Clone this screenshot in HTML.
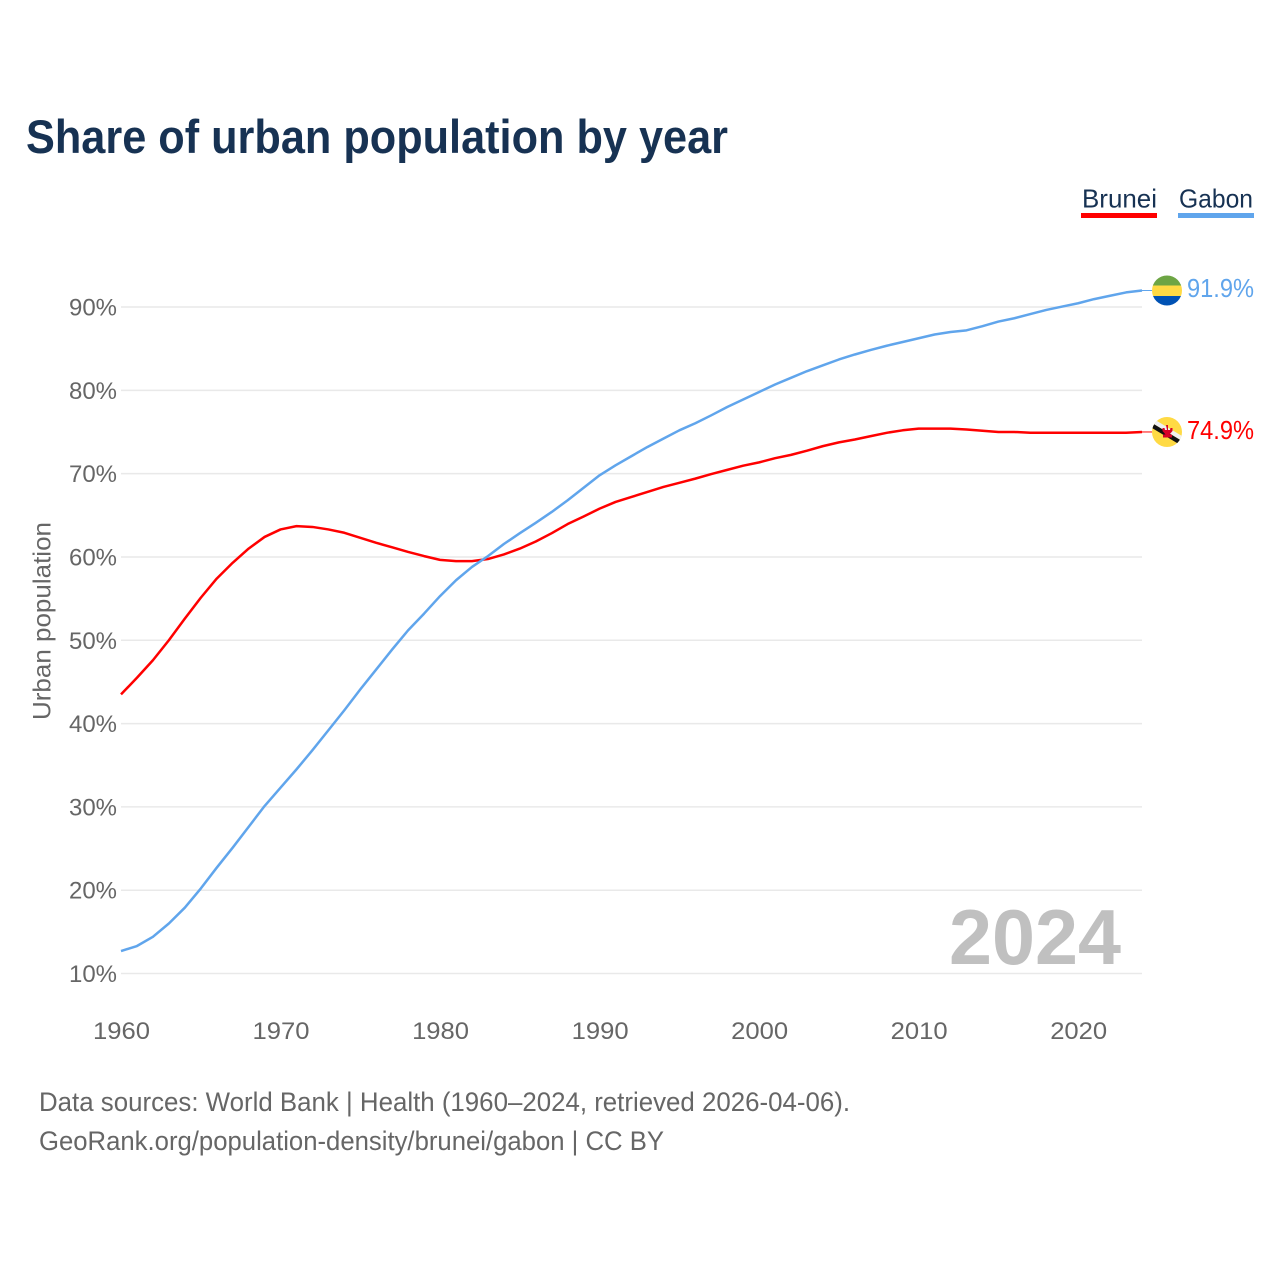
<!DOCTYPE html>
<html lang="en">
<head>
<meta charset="utf-8">
<title>Share of urban population by year</title>
<style>
html,body{margin:0;padding:0;background:#fff;}
svg{display:block;font-family:"Liberation Sans",sans-serif;}
</style>
</head>
<body>
<svg id="chart" xmlns="http://www.w3.org/2000/svg" width="1280" height="1280" viewBox="0 0 1280 1280">
  <defs>
    <clipPath id="flag-clip-gabon"><circle cx="0" cy="0" r="15"/></clipPath>
    <clipPath id="flag-clip-brunei"><circle cx="0" cy="0" r="15"/></clipPath>
  </defs>
  <rect x="0" y="0" width="1280" height="1280" fill="#ffffff"/>
  <text x="26" y="153" font-size="47" font-weight="700" fill="#173253" textLength="702" lengthAdjust="spacingAndGlyphs">Share of urban population by year</text>

  <text x="1082" y="207.5" font-size="26" fill="#173253" textLength="75" lengthAdjust="spacingAndGlyphs">Brunei</text>
  <rect x="1081" y="213" width="76" height="5" fill="#ff0000"/>
  <text x="1179" y="207.5" font-size="26" fill="#173253" textLength="74" lengthAdjust="spacingAndGlyphs">Gabon</text>
  <rect x="1178" y="213" width="76" height="5" fill="#60a5ec"/>

  <g id="grid"></g>
  <g id="y-axis"></g>
  <g id="x-axis"></g>

  <text transform="translate(50.5,720) rotate(-90)" x="0" y="0" font-size="25" fill="#666666" textLength="198" lengthAdjust="spacingAndGlyphs">Urban population</text>

  <text x="949" y="964" font-size="78" font-weight="700" fill="#c0c0c0" textLength="172" lengthAdjust="spacingAndGlyphs">2024</text>

  <g id="series"></g>

  <g id="flag-gabon">
    <g clip-path="url(#flag-clip-gabon)">
      <rect x="-15" y="-15" width="30" height="10" fill="#6da544"/>
      <rect x="-15" y="-5" width="30" height="10.5" fill="#ffda44"/>
      <rect x="-15" y="5.5" width="30" height="10" fill="#0052b4"/>
    </g>
  </g>
  <g id="flag-brunei">
    <g clip-path="url(#flag-clip-brunei)">
      <rect x="-15" y="-15" width="30" height="30" fill="#ffda44"/>
      <polygon points="-15,-14 -15,-9 15,9 15,4" fill="#f0f0f0"/>
      <polygon points="-15,-9 -15,-4 15,14 15,9" fill="#111111"/>
      <path d="M-1,-7 h2 v5 h2 l0.5,-2 h2 v3 l-3,3.5 h2.5 v3 h-9 v-3 h2.5 l-3,-3.5 v-3 h2 l0.5,2 h2z" fill="#d80027"/>
    </g>
  </g>
  <text id="value-gabon" font-size="26" fill="#60a5ec" textLength="67" lengthAdjust="spacingAndGlyphs"></text>
  <text id="value-brunei" font-size="26" fill="#ff0000" textLength="67" lengthAdjust="spacingAndGlyphs"></text>

  <text x="39" y="1111" font-size="26.5" fill="#666666" textLength="811" lengthAdjust="spacingAndGlyphs">Data sources: World Bank | Health (1960–2024, retrieved 2026-04-06).</text>
  <text x="39" y="1150" font-size="26.5" fill="#666666" textLength="625" lengthAdjust="spacingAndGlyphs">GeoRank.org/population-density/brunei/gabon | CC BY</text>
</svg>
<script>
const yearStart = 1960;
const bruneiValues = [43.5,45.5,47.6,50.0,52.6,55.1,57.4,59.3,61.0,62.4,63.3,63.7,63.6,63.3,62.9,62.3,61.7,61.15,60.6,60.1,59.65,59.5,59.5,59.75,60.3,61.0,61.85,62.85,63.95,64.85,65.8,66.6,67.2,67.8,68.4,68.9,69.4,69.95,70.45,70.95,71.35,71.85,72.25,72.75,73.3,73.75,74.1,74.5,74.9,75.2,75.4,75.4,75.4,75.3,75.15,75.0,75.0,74.9,74.9,74.9,74.9,74.9,74.9,74.9,75.0];
const gabonValues = [12.7,13.3,14.4,16.0,17.9,20.2,22.7,25.1,27.6,30.1,32.3,34.5,36.8,39.2,41.6,44.1,46.5,48.9,51.2,53.2,55.3,57.2,58.8,60.1,61.55,62.85,64.1,65.4,66.8,68.3,69.8,71.0,72.1,73.2,74.2,75.2,76.05,77.0,78.0,78.9,79.8,80.7,81.5,82.3,83.0,83.7,84.3,84.85,85.35,85.8,86.25,86.7,87.0,87.2,87.7,88.25,88.65,89.15,89.65,90.05,90.45,90.95,91.35,91.75,91.98];
const yTickValues = [10,20,30,40,50,60,70,80,90];
const xTickValues = [1960,1970,1980,1990,2000,2010,2020];
const bruneiLabel = "74.9%";
const gabonLabel = "91.9%";

const NS = "http://www.w3.org/2000/svg";
const xScale = function (year) { return 121 + (year - 1960) * (1021 / 64); };
const yScale = function (v) { return 973.5 - (v - 10) * (666.5 / 80); };

const gridGroup = document.getElementById("grid");
const yAxisGroup = document.getElementById("y-axis");
const xAxisGroup = document.getElementById("x-axis");
const seriesGroup = document.getElementById("series");

yTickValues.forEach(function (v) {
  const line = document.createElementNS(NS, "line");
  
  
  line.setAttribute("x1", xScale(1960));
  line.setAttribute("x2", xScale(2024));
  line.setAttribute("y1", yScale(v));
  line.setAttribute("y2", yScale(v));
  line.setAttribute("stroke", "#e9e9e9");
  line.setAttribute("stroke-width", "1.5");
  gridGroup.appendChild(line);

  const label = document.createElementNS(NS, "text");
  
  
  label.setAttribute("x", 69);
  label.setAttribute("y", yScale(v) + 8.5);
  label.setAttribute("font-size", "24");
  label.setAttribute("fill", "#666666");
  label.setAttribute("textLength", "48");
  label.setAttribute("lengthAdjust", "spacingAndGlyphs");
  label.textContent = v + "%";
  yAxisGroup.appendChild(label);
});

xTickValues.forEach(function (yr) {
  const label = document.createElementNS(NS, "text");
  
  
  label.setAttribute("x", xScale(yr) - 28);
  label.setAttribute("y", 1039);
  label.setAttribute("font-size", "24.5");
  label.setAttribute("fill", "#666666");
  label.setAttribute("textLength", "57");
  label.setAttribute("lengthAdjust", "spacingAndGlyphs");
  label.textContent = yr;
  xAxisGroup.appendChild(label);
});

function pathFor(values) {
  return values.map(function (v, i) {
    return (i ? "L" : "M") + xScale(yearStart + i).toFixed(2) + " " + yScale(v).toFixed(2);
  }).join(" ");
}

const bruneiLine = document.createElementNS(NS, "path");


bruneiLine.setAttribute("d", pathFor(bruneiValues));
bruneiLine.setAttribute("fill", "none");
bruneiLine.setAttribute("stroke", "#ff0000");
bruneiLine.setAttribute("stroke-width", "2.5");
bruneiLine.setAttribute("stroke-linejoin", "round");
seriesGroup.appendChild(bruneiLine);

const gabonLine = document.createElementNS(NS, "path");


gabonLine.setAttribute("d", pathFor(gabonValues));
gabonLine.setAttribute("fill", "none");
gabonLine.setAttribute("stroke", "#60a5ec");
gabonLine.setAttribute("stroke-width", "2.5");
gabonLine.setAttribute("stroke-linejoin", "round");
seriesGroup.appendChild(gabonLine);

const bruneiEndY = yScale(bruneiValues[bruneiValues.length - 1]);
const gabonEndY = yScale(gabonValues[gabonValues.length - 1]);

const bruneiLeader = document.createElementNS(NS, "line");


bruneiLeader.setAttribute("x1", xScale(2024));
bruneiLeader.setAttribute("x2", 1152);
bruneiLeader.setAttribute("y1", bruneiEndY);
bruneiLeader.setAttribute("y2", bruneiEndY);
bruneiLeader.setAttribute("stroke", "#ff0000");
bruneiLeader.setAttribute("stroke-width", "1");
seriesGroup.appendChild(bruneiLeader);

const gabonLeader = document.createElementNS(NS, "line");


gabonLeader.setAttribute("x1", xScale(2024));
gabonLeader.setAttribute("x2", 1152);
gabonLeader.setAttribute("y1", gabonEndY);
gabonLeader.setAttribute("y2", gabonEndY);
gabonLeader.setAttribute("stroke", "#60a5ec");
gabonLeader.setAttribute("stroke-width", "1");
seriesGroup.appendChild(gabonLeader);

document.getElementById("flag-gabon").setAttribute("transform", "translate(1167," + gabonEndY + ")");
document.getElementById("flag-brunei").setAttribute("transform", "translate(1167," + bruneiEndY + ")");

const gabonText = document.getElementById("value-gabon");
gabonText.setAttribute("x", 1187);
gabonText.setAttribute("y", gabonEndY + 6.5);
gabonText.textContent = gabonLabel;

const bruneiText = document.getElementById("value-brunei");
bruneiText.setAttribute("x", 1187);
bruneiText.setAttribute("y", bruneiEndY + 7);
bruneiText.textContent = bruneiLabel;
</script>
</body>
</html>
